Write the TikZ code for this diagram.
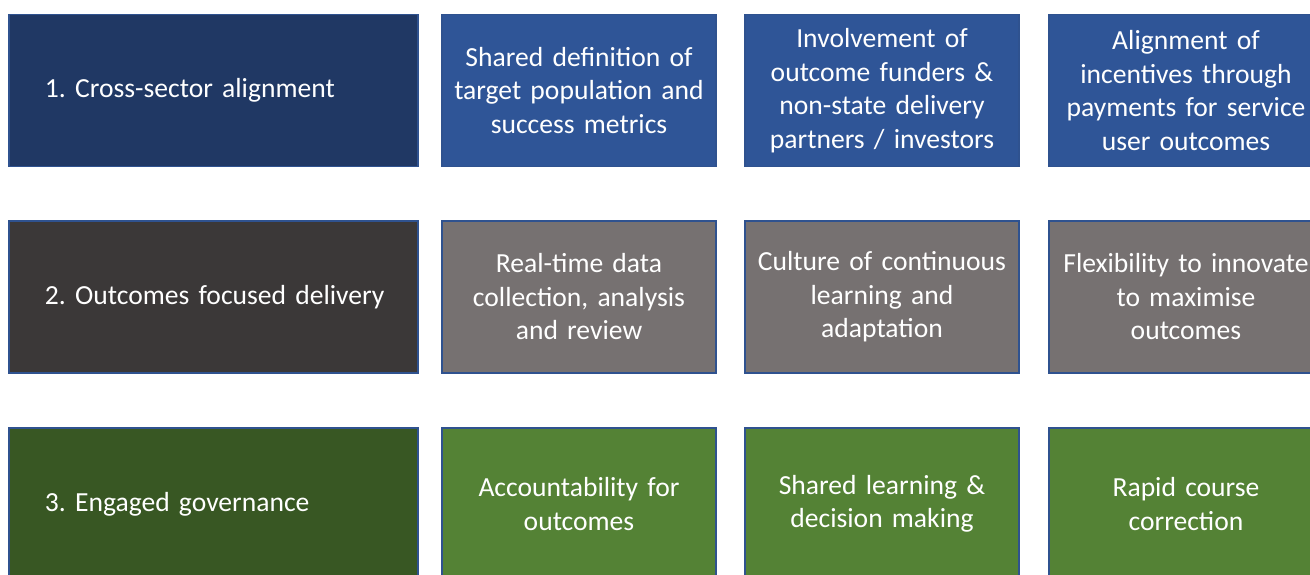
\documentclass[tikz,border=0pt]{standalone}
\usepackage{fontspec}
\setmainfont{Carlito}[WordSpace={0.8,0.3,0.1}]
\frenchspacing
\definecolor{NavyBox}{RGB}{32,56,100}
\definecolor{BlueBox}{RGB}{47,85,151}
\definecolor{CharcoalBox}{RGB}{59,56,56}
\definecolor{GreyBox}{RGB}{118,113,113}
\definecolor{ForestBox}{RGB}{56,87,35}
\definecolor{GreenBox}{RGB}{84,130,53}
\definecolor{BoxLine}{RGB}{47,82,143}
\tikzset{
	cell/.style={draw=BoxLine,line width=1.2pt,text=white,font=\fontsize{27.6}{33.5}\selectfont,
		minimum height=152pt,inner sep=0pt},
	headcell/.style={cell,minimum width=409pt,text width=337pt,align=left},
	itemcell/.style={cell,minimum width=274pt,text width=262pt,align=center}
}

\begin{document}
\begin{tikzpicture}[x=1pt,y=-1pt]
		\useasboundingbox (0,0) rectangle (1310,574);
		\clip (0,0) rectangle (1310,574);

		% row 1: cross-sector alignment
		\node[headcell,fill=NavyBox] (head1) at (213.5,90.5) {\mbox{1. Cross-sector alignment}};
		\node[itemcell,fill=BlueBox] (item11) at (579,90.5) {Shared definition of\\target population and\\success metrics};
		\node[itemcell,fill=BlueBox] (item12) at (882,90.5) {Involvement of\\outcome funders \&\\non-state delivery\\partners / investors};
		\node[itemcell,fill=BlueBox] (item13) at (1186,90.5) {Alignment of\\incentives through\\payments for service\\user outcomes};

		% row 2: outcomes focused delivery
		\node[headcell,fill=CharcoalBox] (head2) at (213.5,297) {\mbox{2. Outcomes focused delivery}};
		\node[itemcell,fill=GreyBox] (item21) at (579,297) {Real-time data\\collection, analysis\\and review};
		\node[itemcell,fill=GreyBox] (item22) at (882,297) {Culture of continuous\\learning and\\adaptation};
		\node[itemcell,fill=GreyBox] (item23) at (1186,297) {Flexibility to innovate\\to maximise\\outcomes};

		% row 3: engaged governance
		\node[headcell,fill=ForestBox] (head3) at (213.5,504) {\mbox{3. Engaged governance}};
		\node[itemcell,fill=GreenBox] (item31) at (579,504) {Accountability for\\outcomes};
		\node[itemcell,fill=GreenBox] (item32) at (882,504) {Shared learning \&\\decision making};
		\node[itemcell,fill=GreenBox] (item33) at (1186,504) {Rapid course\\correction};

	\end{tikzpicture}
\end{document}
